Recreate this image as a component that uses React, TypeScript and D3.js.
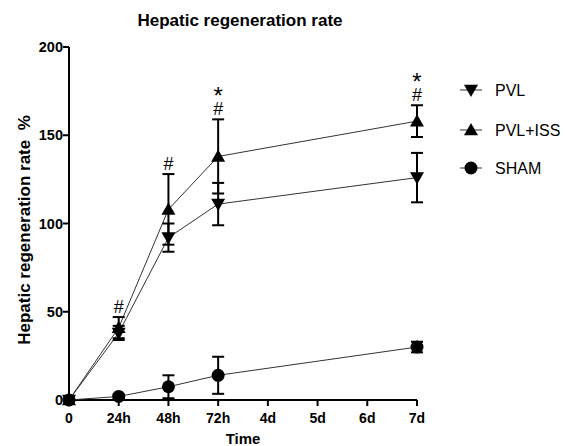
import React from "react";
import * as d3 from "d3";

const timeTicks = [0, 1, 2, 3, 4, 5, 6, 7];
const timeLabels = ["0", "24h", "48h", "72h", "4d", "5d", "6d", "7d"];
const yTicks = [0, 50, 100, 150, 200];

const sampleDays = [0, 1, 2, 3, 7];
const pvlMean = [0, 38, 92, 111, 126];
const pvlErr = [0, 4, 8, 12, 14];
const issMean = [0, 41, 108, 138, 158];
const issErr = [0, 6, 20, 21, 9];
const shamMean = [0, 2, 7.5, 14, 30];
const shamErr = [0, 1, 6.5, 10.5, 3];

const annotDays = [1, 2, 3, 7];
const annotTop = [47, 128, 159, 167];
const annotStar = [false, false, true, true];

const seriesNames = ["PVL", "PVL+ISS", "SHAM"];

export default function App() {
  const W = 566, H = 446;
  const x = d3.scaleLinear().domain([0, 7]).range([69, 417]);
  const y = d3.scaleLinear().domain([0, 200]).range([400, 47]);
  const line = d3.line<number>().x((_, i) => x(sampleDays[i])).y((d) => y(d));

  const series = [
    { name: seriesNames[0], mean: pvlMean, err: pvlErr, shape: "down" },
    { name: seriesNames[1], mean: issMean, err: issErr, shape: "up" },
    { name: seriesNames[2], mean: shamMean, err: shamErr, shape: "circle" },
  ];

  const marker = (shape: string, cx: number, cy: number, key: string) => {
    if (shape === "circle") return <circle key={key} cx={cx} cy={cy} r={6.5} fill="#000" />;
    const s = 7;
    if (shape === "up")
      return <path key={key} d={`M${cx},${cy - s}L${cx + s},${cy + s * 0.75}L${cx - s},${cy + s * 0.75}Z`} fill="#000" />;
    return <path key={key} d={`M${cx},${cy + s}L${cx + s},${cy - s * 0.75}L${cx - s},${cy - s * 0.75}Z`} fill="#000" />;
  };

  const font = "'Liberation Sans', Arial, sans-serif";

  return (
    <svg width={W} height={H} style={{ position: "absolute", left: 0, top: 0, background: "#fff" }} fontFamily={font}>
      <rect width={W} height={H} fill="#fff" />
      <text x={240} y={26} textAnchor="middle" fontSize={17} fontWeight="bold">Hepatic regeneration rate</text>
      <text transform={`translate(30,230) rotate(-90)`} textAnchor="middle" fontSize={17} fontWeight="bold" style={{ whiteSpace: "pre" }}>Hepatic regeneration rate  %</text>

      {/* axes */}
      <line x1={x(0)} x2={x(0)} y1={y(200)} y2={y(0)} stroke="#000" strokeWidth={2} />
      <line x1={x(0)} x2={x(7)} y1={y(0)} y2={y(0)} stroke="#000" strokeWidth={2} />
      {yTicks.map((t) => (
        <g key={"y" + t}>
          <line x1={x(0) - 6} x2={x(0)} y1={y(t)} y2={y(t)} stroke="#000" strokeWidth={2} />
          <text x={x(0) - 6} y={y(t) + 5} textAnchor="end" fontSize={14.5} fontWeight="bold">{t}</text>
        </g>
      ))}
      {timeTicks.map((t, i) => (
        <g key={"x" + t}>
          <line x1={x(t)} x2={x(t)} y1={y(0)} y2={y(0) + 6} stroke="#000" strokeWidth={2} />
          <text x={x(t)} y={y(0) + 23} textAnchor="middle" fontSize={14} fontWeight="bold">{timeLabels[i]}</text>
        </g>
      ))}
      <text x={243} y={444} textAnchor="middle" fontSize={15} fontWeight="bold">Time</text>

      {/* lines */}
      {series.map((s) => (
        <path key={"l" + s.name} d={line(s.mean) || ""} fill="none" stroke="#333" strokeWidth={1} />
      ))}
      {/* error bars */}
      {series.map((s) =>
        s.mean.map((m, i) =>
          s.err[i] > 0 ? (
            <g key={"e" + s.name + i} stroke="#000" strokeWidth={2}>
              <line x1={x(sampleDays[i])} x2={x(sampleDays[i])} y1={y(m - s.err[i])} y2={y(m + s.err[i])} />
              <line x1={x(sampleDays[i]) - 6} x2={x(sampleDays[i]) + 6} y1={y(m + s.err[i])} y2={y(m + s.err[i])} />
              <line x1={x(sampleDays[i]) - 6} x2={x(sampleDays[i]) + 6} y1={y(m - s.err[i])} y2={y(m - s.err[i])} />
            </g>
          ) : null
        )
      )}
      {/* markers */}
      {series.map((s) => s.mean.map((m, i) => marker(s.shape, x(sampleDays[i]), y(m), "m" + s.name + i)))}

      {/* annotations */}
      {annotDays.map((d, i) => (
        <g key={"a" + i}>
          <text x={x(d)} y={y(annotTop[i]) - 4} textAnchor="middle" fontSize={18}>#</text>
          {annotStar[i] ? (
            <text x={x(d)} y={y(annotTop[i]) - 15} textAnchor="middle" fontSize={24}>*</text>
          ) : null}
        </g>
      ))}

      {/* legend */}
      {series.map((s, i) => {
        const ly = [90, 130, 168][i];
        return (
          <g key={"lg" + s.name}>
            <line x1={460} x2={482} y1={ly} y2={ly} stroke="#333" strokeWidth={1} />
            {marker(s.shape, 471, ly, "lm" + i)}
            <text x={495} y={ly + 6} fontSize={16}>{s.name}</text>
          </g>
        );
      })}
    </svg>
  );
}
